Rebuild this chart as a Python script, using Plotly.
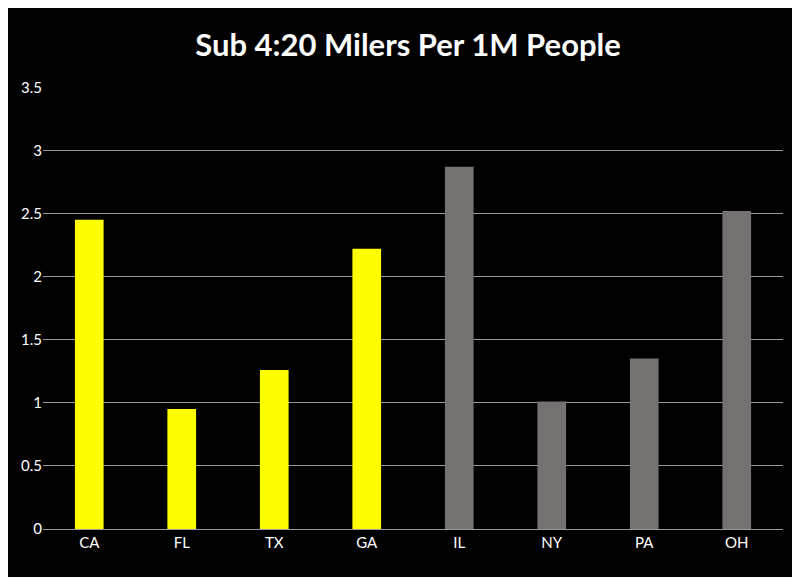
import plotly.graph_objects as go

states = ["CA", "FL", "TX", "GA", "IL", "NY", "PA", "OH"]
values = [2.45, 0.95, 1.26, 2.22, 2.87, 1.01, 1.35, 2.52]
colors = ["#FFFF00"] * 4 + ["#767171"] * 4
y_ticks = [0, 0.5, 1, 1.5, 2, 2.5, 3, 3.5]
y_labels = ["0", "0.5", "1", "1.5", "2", "2.5", "3", "3.5"]

fig = go.Figure(go.Bar(x=states, y=values, marker=dict(color=colors, line=dict(width=0)), width=0.31))
fig.update_layout(
    width=800, height=577,
    paper_bgcolor="black", plot_bgcolor="black",
    margin=dict(l=35, r=25, t=79, b=56),
    title=dict(text="<b>Sub 4:20 Milers Per 1M People</b>", x=0.5, xanchor="center", y=0.935, yanchor="middle",
               font=dict(family="Lato", size=31, color="white")),
    font=dict(family="Lato", color="white", size=15),
    showlegend=False,
)
fig.update_xaxes(showgrid=False, showline=True, linecolor="#9a9a9a", tickfont=dict(size=15, color="white"), ticks="")
fig.update_yaxes(range=[0, 3.502], tickvals=y_ticks, ticktext=y_labels, showgrid=True, gridcolor="#9a9a9a",
                 gridwidth=1, zeroline=False, tickfont=dict(size=15, color="white"), ticks="")
fig.write_html("out.html")
